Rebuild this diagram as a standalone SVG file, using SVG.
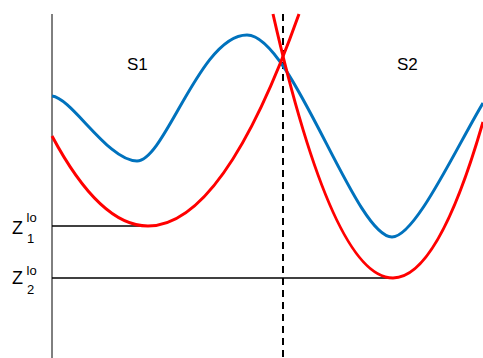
<svg xmlns="http://www.w3.org/2000/svg" width="483" height="358" viewBox="0 0 483 358">
<style>
.t{font-family:"Liberation Sans",Arial,sans-serif;fill:#000}
.blue{fill:none;stroke:#0072BD;stroke-width:3}
.red{fill:none;stroke:#FF0000;stroke-width:3}
.ax{stroke:#000;stroke-width:1}
.lvl{stroke:#000;stroke-width:1.5}
</style>
<rect width="483" height="358" fill="#fff"/>
<g id="axes">
<line class="ax" x1="52" y1="14" x2="52" y2="358"/>
<line x1="283" y1="14" x2="283" y2="358" stroke="#000" stroke-width="2" stroke-dasharray="7,5"/>
</g>
<g id="levels">
<line class="lvl" x1="52" y1="226" x2="148" y2="226"/>
<line class="lvl" x1="52" y1="278" x2="393" y2="278"/>
</g>
<g id="curves">
<path class="blue" d="M52,96 C72,98 108,161 137,161 C165,161 200,35 247,35 C292,35 355,237 392,237 C415,237 455,150 483,103"/>
<path class="red" d="M52,136 Q100,226 148,226 Q223.5,226 299,14"/>
<path class="red" d="M273,14 Q333,278 393,278 Q438,278 483,122"/>
</g>
<g id="labels">
<text class="t" x="127" y="70" font-size="17">S1</text>
<text class="t" x="397" y="70" font-size="17">S2</text>
<text class="t" x="12" y="234" font-size="18">Z</text>
<text class="t" x="26.5" y="222" font-size="13">lo</text>
<text class="t" x="27" y="243" font-size="13">1</text>
<text class="t" x="12" y="284" font-size="18">Z</text>
<text class="t" x="26.5" y="275" font-size="13">lo</text>
<text class="t" x="27" y="294" font-size="13">2</text>
</g>
</svg>
